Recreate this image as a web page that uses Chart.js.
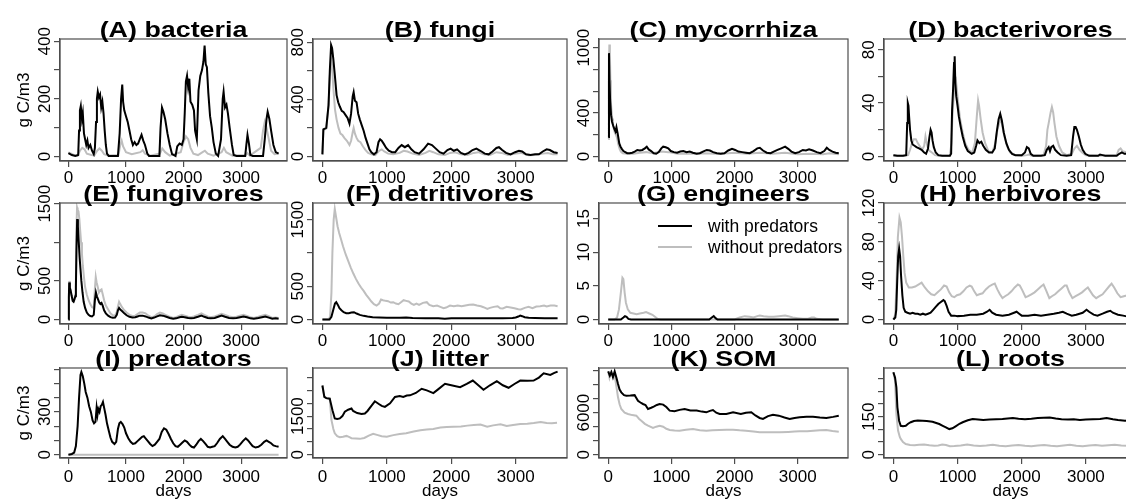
<!DOCTYPE html>
<html><head><meta charset="utf-8">
<script src="https://cdn.jsdelivr.net/npm/chart.js@4.4.1/dist/chart.umd.min.js"></script>
<style>
html,body{margin:0;padding:0;background:#fff;overflow:hidden;width:1126px;height:499px;position:relative}
canvas{position:absolute;display:block}
</style></head><body>
<script>
// ---------- data (day, g C/m3) ----------
const panelTitles = ['(A) bacteria','(B) fungi','(C) mycorrhiza','(D) bacterivores','(E) fungivores','(F) detritivores','(G) engineers','(H) herbivores','(I) predators','(J) litter','(K) SOM','(L) roots'];
const seriesLabels = ['with predators','without predators'];
const xTickValues = [0,1000,2000,3000];
const yTops = [408,823,1080,88,1509,1749,17.3,120,608,3372,12380,342];
const ySteps = [100,200,200,20,500,500,5,20,100,500,2000,50];
const yTickLabels = [[0,200,400],[0,400,800],[0,400,1000],[0,40,80],[0,500,1500],[0,500,1500],[0,5,10,15],[0,40,80,120],[0,300],[0,1500],[0,6000],[0,150]];
const yAxisTitle = 'g C/m3';
const xAxisTitle = 'days';

const bacteriaWith = [[0,12],[60,5],[120,2],[170,5],[185,90],[200,160],[215,175],[235,130],[250,150],[270,80],[290,60],[310,40],[330,55],[350,30],[380,40],[410,20],[440,8],[460,30],[480,120],[495,200],[510,225],[530,205],[550,215],[570,170],[590,190],[610,150],[630,90],[650,40],[670,10],[700,2],[860,2],[890,80],[915,200],[935,250],[950,190],[970,160],[1000,140],[1030,120],[1060,90],[1090,60],[1120,40],[1150,50],[1180,40],[1210,45],[1240,60],[1270,75],[1300,55],[1330,40],[1370,10],[1400,2],[1580,2],[1600,100],[1625,170],[1650,155],[1680,130],[1720,80],[1760,40],[1800,8],[1860,2],[1890,35],[1930,45],[1970,40],[2000,60],[2020,150],[2040,260],[2060,280],[2080,240],[2100,270],[2120,190],[2150,180],[2180,160],[2200,90],[2230,60],[2260,230],[2290,280],[2320,300],[2345,330],[2365,385],[2385,320],[2405,310],[2430,220],[2460,140],[2490,100],[2520,50],[2560,10],[2600,2],[2650,60],[2680,200],[2695,225],[2720,170],[2745,180],[2770,150],[2800,100],[2840,40],[2870,5],[2920,2],[3070,2],[3090,40],[3110,75],[3135,45],[3160,5],[3200,2],[3380,2],[3410,60],[3440,130],[3460,155],[3490,130],[3520,90],[3560,40],[3600,15],[3650,10]];
const bacteriaWithout = [[0,14],[50,10],[100,5],[160,3],[200,20],[240,30],[280,25],[320,10],[400,5],[450,4],[500,20],[540,28],[580,20],[620,8],[700,3],[870,5],[900,40],[925,55],[950,35],[1000,15],[1100,8],[1250,15],[1290,22],[1330,10],[1420,3],[1590,10],[1630,28],[1680,15],[1760,3],[1950,15],[2000,50],[2040,70],[2080,60],[2120,30],[2170,10],[2250,5],[2330,15],[2370,20],[2420,10],[2520,3],[2660,15],[2700,30],[2740,15],[2850,3],[3080,5],[3110,12],[3150,3],[3340,30],[3380,90],[3410,120],[3440,100],[3480,60],[3520,20],[3580,8],[3650,10]];
const fungiWith = [[0,15],[15,190],[60,200],[95,360],[115,600],[135,780],[150,760],[170,680],[195,560],[220,430],[245,380],[270,350],[300,320],[330,310],[360,290],[390,270],[420,230],[445,300],[470,420],[485,450],[505,390],[530,380],[555,300],[580,260],[610,220],[640,180],[670,130],[700,90],[730,50],[760,30],[800,15],[840,30],[870,100],[895,120],[920,110],[950,90],[990,60],[1030,40],[1080,30],[1130,30],[1180,60],[1230,80],[1280,65],[1330,80],[1380,50],[1430,30],[1500,20],[1570,50],[1640,90],[1700,80],[1760,55],[1820,30],[1880,20],[1940,45],[1990,55],[2040,40],[2090,50],[2150,25],[2210,15],[2270,25],[2330,45],[2390,55],[2450,40],[2520,20],[2580,15],[2640,35],[2700,60],[2740,65],[2790,45],[2850,25],[2920,15],[2990,30],[3050,40],[3100,35],[3160,15],[3230,10],[3300,15],[3360,15],[3420,35],[3480,50],[3530,45],[3590,30],[3650,25]];
const fungiWithout = [[0,15],[15,185],[60,195],[95,350],[115,560],[135,680],[150,640],[170,480],[195,330],[220,260],[250,200],[280,160],[310,150],[340,130],[380,110],[420,80],[445,110],[470,170],[485,200],[505,160],[530,130],[555,110],[590,100],[630,70],[670,45],[710,25],[760,15],[820,10],[880,40],[920,50],[960,35],[1020,20],[1100,15],[1200,25],[1260,40],[1320,35],[1400,20],[1500,10],[1600,25],[1660,40],[1720,30],[1800,15],[1900,10],[1980,25],[2060,30],[2150,15],[2250,10],[2350,25],[2420,30],[2500,15],[2600,10],[2700,30],[2780,25],[2880,10],[3000,20],[3080,25],[3200,8],[3300,10],[3420,20],[3500,25],[3580,15],[3650,15]];
const mycorrhizaWith = [[0,180],[12,950],[20,700],[30,520],[45,380],[60,320],[80,280],[100,250],[115,230],[130,270],[150,210],[175,120],[195,90],[215,70],[240,50],[270,40],[300,30],[340,30],[380,35],[420,45],[460,60],[500,55],[540,60],[580,75],[610,90],[640,65],[680,50],[720,30],[760,25],[800,40],[840,75],[870,90],[910,85],[950,75],[990,50],[1040,40],[1090,35],[1140,45],[1190,50],[1240,40],[1290,45],[1340,35],[1400,25],[1450,30],[1500,45],[1560,60],[1610,55],[1660,40],[1720,30],[1780,25],[1840,30],[1900,55],[1960,70],[2010,60],[2060,45],[2120,40],[2180,35],[2240,30],[2300,50],[2360,75],[2400,80],[2450,55],[2510,35],[2570,30],[2620,45],[2680,60],[2740,75],[2800,90],[2850,70],[2900,45],[2960,30],[3020,40],[3080,60],[3130,55],[3180,65],[3240,55],[3300,40],[3360,30],[3420,50],[3460,80],[3500,60],[3550,45],[3600,35],[3650,30]];
const mycorrhizaWithout = [[0,160],[10,700],[18,1030],[26,950],[34,700],[42,500],[52,420],[62,350],[75,300],[90,250],[105,220],[120,200],[140,170],[160,110],[180,70],[200,45],[230,30],[300,25],[400,25],[500,35],[600,40],[700,30],[850,45],[950,40],[1100,25],[1300,25],[1500,30],[1700,25],[1900,30],[2000,35],[2200,25],[2400,35],[2600,25],[2800,35],[3000,20],[3200,25],[3400,20],[3500,30],[3650,20]];
const bacterivoresWith = [[0,1],[60,0.5],[150,0.5],[200,1],[215,25],[225,40],[235,38],[245,30],[260,20],[280,12],[300,9],[330,8],[360,7],[400,6],[440,5],[480,3],[510,2],[540,6],[560,14],[580,20],[595,18],[610,12],[630,7],[660,3],[700,1],[760,0.5],[880,0.5],[900,2],[915,35],[930,50],[945,70],[955,75],[965,55],[980,45],[1000,38],[1020,30],[1050,22],[1080,15],[1120,8],[1160,4],[1220,2],[1260,3],[1290,8],[1310,12],[1340,10],[1370,11],[1400,8],[1440,5],[1490,3],[1540,3],[1580,6],[1610,18],[1640,28],[1665,32],[1690,27],[1720,18],[1760,10],[1800,5],[1850,2],[1900,1],[2000,1],[2050,3],[2080,7],[2110,6],[2140,2],[2180,0.5],[2300,0.5],[2360,1],[2390,5],[2420,7],[2440,4],[2460,7],[2490,8],[2520,5],[2560,3],[2610,1],[2700,0.5],[2770,1],[2800,15],[2820,22],[2840,22],[2860,20],[2890,15],[2920,9],[2950,5],[2990,2],[3050,0.5],[3190,0.5],[3220,1.5],[3260,1],[3300,0.5],[3480,0.5],[3520,2],[3560,3],[3600,2],[3650,2]];
const bacterivoresWithout = [[0,1],[60,0.5],[150,0.5],[230,1],[260,5],[290,10],[320,13],[350,13],[380,10],[420,7],[450,5],[480,8],[500,15],[520,10],[545,5],[570,4],[600,3],[650,1],[700,0.5],[880,0.5],[905,10],[920,30],[940,45],[960,55],[975,57],[990,50],[1010,40],[1040,28],[1080,18],[1120,10],[1170,5],[1230,3],[1270,10],[1300,30],[1320,42],[1335,38],[1360,28],[1390,18],[1430,10],[1480,4],[1540,3],[1590,10],[1620,20],[1650,25],[1680,28],[1700,22],[1730,15],[1770,8],[1820,3],[1900,1],[2000,0.5],[2080,1],[2110,1.5],[2150,0.5],[2340,1],[2380,8],[2400,20],[2420,25],[2450,33],[2470,37],[2490,33],[2510,25],[2540,15],[2580,8],[2630,3],[2700,1],[2780,2],[2820,6],[2860,8],[2900,5],[2940,3],[3000,1],[3200,0.5],[3480,1],[3510,5],[3540,6],[3570,4],[3650,3]];
const fungivoresWith = [[0,0],[8,290],[14,480],[25,410],[40,370],[55,310],[75,240],[90,230],[105,260],[120,300],[130,420],[140,900],[152,1300],[165,1200],[180,1000],[195,800],[210,650],[225,500],[245,350],[265,230],[290,150],[320,90],[350,60],[380,45],[410,40],[440,60],[460,250],[478,350],[495,300],[515,260],[535,220],[555,200],[575,215],[595,180],[620,120],[650,80],[690,50],[730,30],[770,22],[810,25],[840,60],[860,120],[880,150],[900,130],[930,110],[970,80],[1010,55],[1060,35],[1110,25],[1160,30],[1200,40],[1240,50],[1290,50],[1340,40],[1390,25],[1440,15],[1490,25],[1540,40],[1590,55],[1640,50],[1700,35],[1760,20],[1820,10],[1870,15],[1930,30],[1970,35],[2020,30],[2080,20],[2130,15],[2180,20],[2250,35],[2310,50],[2360,35],[2420,20],[2470,15],[2540,20],[2600,35],[2660,50],[2720,35],[2790,20],[2860,15],[2920,20],[2980,30],[3040,40],[3100,30],[3160,15],[3220,10],[3300,20],[3360,30],[3420,40],[3480,25],[3540,10],[3600,15],[3650,10]];
const fungivoresWithout = [[0,0],[8,300],[14,500],[25,420],[40,380],[55,320],[75,250],[90,240],[105,270],[120,320],[130,500],[140,1200],[150,1450],[160,1420],[175,1400],[190,1300],[205,1150],[220,1000],[235,850],[250,700],[270,550],[290,420],[320,320],[350,250],[380,200],[410,160],[440,150],[460,400],[475,550],[490,480],[510,420],[530,350],[555,380],[575,390],[595,330],[620,250],[650,180],[690,130],[730,80],[770,55],[810,50],[840,100],[860,170],[880,230],[900,200],[930,160],[970,120],[1010,90],[1060,60],[1110,45],[1160,50],[1200,70],[1240,90],[1290,90],[1340,80],[1390,50],[1440,30],[1490,40],[1540,70],[1590,90],[1640,80],[1700,55],[1760,35],[1820,20],[1870,30],[1930,50],[1970,60],[2020,50],[2080,35],[2130,30],[2180,40],[2250,60],[2310,80],[2360,60],[2420,40],[2470,30],[2540,40],[2600,55],[2660,75],[2720,60],[2790,40],[2860,30],[2920,35],[2980,50],[3040,60],[3100,45],[3160,30],[3220,20],[3300,35],[3360,50],[3420,60],[3480,45],[3540,20],[3600,25],[3650,20]];
const detritivoresWith = [[0,0],[110,0],[140,40],[170,150],[195,240],[215,260],[240,220],[265,170],[295,140],[330,110],[370,95],[410,95],[450,105],[490,110],[530,90],[580,70],[640,55],[700,45],[780,35],[880,30],[1000,25],[1200,25],[1300,30],[1400,22],[1600,20],[1800,18],[1900,12],[2000,20],[2200,20],[2400,18],[2600,18],[2800,20],[2950,22],[3000,30],[3040,45],[3070,60],[3100,50],[3140,35],[3200,25],[3300,22],[3450,20],[3650,20]];
const detritivoresWithout = [[0,0],[100,0],[120,50],[140,400],[155,1000],[175,1500],[192,1660],[210,1550],[235,1400],[260,1300],[290,1200],[320,1100],[360,980],[400,880],[440,780],[480,690],[520,610],[560,540],[600,480],[640,430],[680,370],[720,320],[760,270],[800,230],[840,210],[880,240],[910,300],[940,290],[980,280],[1020,275],[1060,255],[1100,260],[1140,240],[1180,230],[1220,260],[1260,290],[1300,280],[1340,270],[1380,240],[1420,220],[1460,240],[1500,220],[1560,250],[1620,260],[1660,220],[1720,200],[1780,210],[1830,190],[1880,170],[1920,180],[1980,210],[2040,200],[2100,210],[2160,200],[2220,210],[2280,220],[2340,225],[2400,210],[2460,200],[2500,185],[2560,160],[2600,175],[2660,190],[2720,200],[2760,170],[2800,165],[2860,190],[2920,180],[2980,170],[3040,155],[3080,150],[3140,175],[3200,190],[3260,170],[3320,195],[3380,200],[3440,210],[3480,195],[3540,210],[3600,210],[3650,200]];
const engineersWith = [[0,0],[200,0],[240,0.3],[265,0.5],[290,0.4],[320,0.1],[360,0],[1600,0],[1640,0.3],[1670,0.5],[1700,0.2],[1730,0],[3650,0]];
const engineersWithout = [[0,0],[100,0],[140,0.3],[170,1.5],[200,4],[225,6.2],[240,6],[260,4],[280,2.5],[310,1.5],[350,1],[400,0.9],[450,0.8],[500,0.9],[560,1],[600,1.1],[650,0.9],[700,0.7],[740,0.4],[780,0.1],[830,0],[2000,0],[2080,0.3],[2160,0.5],[2240,0.4],[2300,0.3],[2360,0.5],[2400,0.6],[2460,0.5],[2540,0.4],[2620,0.4],[2700,0.5],[2800,0.6],[2850,0.5],[2920,0.3],[3000,0.2],[3080,0.1],[3150,0.1],[3220,0.3],[3260,0.3],[3300,0.1],[3400,0],[3650,0]];
const herbivoresWith = [[0,0],[30,2],[45,10],[60,40],[75,65],[90,73],[105,65],[120,45],[140,25],[160,12],[185,8],[220,7],[260,6],[300,7],[340,6],[380,6],[420,5],[460,6],[500,5],[540,6],[580,7],[620,10],[660,13],[700,16],[740,18],[780,20],[800,19],[830,14],[860,8],[900,4],[950,4],[1000,3.5],[1100,4],[1200,5],[1300,5],[1400,6],[1460,8],[1500,10],[1540,7],[1600,5],[1700,4],[1800,5],[1880,7],[1920,8],[1960,6],[2000,4],[2100,4],[2200,5],[2300,4],[2400,5],[2500,6],[2580,7],[2640,8],[2700,6],[2780,4],[2850,5],[2950,7],[3010,10],[3050,8],[3120,5],[3180,4],[3260,6],[3330,8],[3380,9],[3420,7],[3500,5],[3580,4],[3650,3]];
const herbivoresWithout = [[0,0],[30,5],[50,40],[70,85],[95,105],[115,100],[135,85],[155,65],[175,48],[200,38],[240,33],[290,33],[340,34],[390,36],[440,38],[490,33],[540,29],[590,26],[640,25],[690,28],[740,31],[790,35],[830,34],[870,28],[910,24],[950,23],[990,25],[1040,26],[1090,29],[1140,33],[1190,35],[1220,34],[1260,29],[1300,25],[1340,26],[1390,27],[1440,31],[1490,34],[1540,36],[1580,37],[1620,31],[1660,26],[1700,22],[1740,24],[1790,26],[1840,29],[1890,33],[1940,36],[1970,35],[2010,30],[2060,23],[2100,24],[2150,26],[2200,28],[2250,31],[2300,34],[2340,36],[2380,30],[2430,22],[2470,24],[2520,26],[2570,29],[2620,32],[2670,35],[2700,35],[2740,28],[2790,22],[2840,24],[2890,26],[2940,28],[2990,31],[3030,33],[3060,30],[3110,25],[3160,22],[3210,24],[3260,26],[3310,30],[3360,34],[3400,37],[3440,33],[3490,27],[3540,23],[3590,24],[3650,25]];
const predatorsWith = [[0,0],[60,5],[100,15],[130,60],[160,200],[185,400],[210,560],[225,580],[250,550],[275,500],[300,440],[330,400],[360,340],[390,300],[420,240],[445,220],[470,230],[490,330],[505,280],[520,320],[540,300],[560,340],[580,350],[600,370],[620,330],[645,280],[670,220],[700,170],[730,120],[760,90],[800,75],[830,90],[860,180],[885,220],[910,230],[940,215],[970,190],[1000,150],[1040,115],[1080,90],[1120,75],[1160,80],[1200,95],[1240,110],[1280,125],[1310,130],[1340,115],[1380,95],[1420,75],[1460,60],[1500,70],[1540,90],[1580,110],[1620,160],[1660,185],[1700,175],[1740,145],[1780,110],[1820,80],[1860,60],[1900,55],[1940,70],[1980,85],[2020,100],[2060,90],[2100,70],[2140,55],[2180,50],[2220,70],[2260,95],[2300,110],[2340,95],[2380,75],[2420,55],[2460,50],[2500,55],[2540,60],[2580,80],[2630,110],[2680,130],[2720,110],[2760,90],[2800,70],[2850,55],[2900,50],[2940,55],[2980,70],[3030,95],[3080,115],[3120,100],[3160,80],[3200,60],[3250,50],[3300,55],[3350,70],[3400,90],[3440,100],[3480,90],[3520,80],[3560,65],[3600,60],[3650,55]];
const predatorsWithout = [[0,0],[3650,0]];
const litterWith = [[0,2690],[30,2250],[60,2200],[114,2180],[156,1730],[192,1410],[230,1390],[270,1410],[310,1500],[348,1670],[400,1750],[451,1795],[477,1700],[540,1620],[607,1580],[659,1600],[700,1700],[760,1900],[814,2077],[870,1980],[920,1900],[970,1859],[1050,2000],[1126,2244],[1200,2280],[1255,2244],[1310,2300],[1359,2308],[1450,2400],[1540,2564],[1620,2500],[1722,2397],[1800,2550],[1903,2756],[2000,2700],[2137,2628],[2240,2750],[2334,2885],[2420,2700],[2500,2526],[2600,2700],[2707,2859],[2800,2700],[2889,2603],[2980,2750],[3071,2885],[3180,2880],[3278,2885],[3360,3000],[3434,3167],[3537,3103],[3600,3180],[3650,3231]];
const litterWithout = [[0,2690],[30,2250],[60,2200],[114,2180],[140,1350],[170,1000],[192,830],[230,720],[270,680],[320,700],[373,730],[420,680],[451,640],[520,630],[581,615],[650,650],[720,740],[788,810],[860,760],[920,720],[1000,700],[1100,760],[1200,800],[1300,830],[1416,900],[1520,950],[1620,980],[1720,1000],[1831,1060],[1930,1080],[2033,1090],[2150,1100],[2250,1130],[2350,1150],[2453,1170],[2557,1090],[2650,1140],[2764,1180],[2860,1115],[2960,1150],[3071,1190],[3180,1200],[3280,1230],[3387,1270],[3480,1230],[3560,1220],[3641,1240]];
const somWith = [[0,11900],[25,11300],[50,11800],[75,11050],[102,11900],[130,11000],[155,10100],[180,9300],[207,8900],[250,8500],[286,8430],[350,8450],[418,8500],[445,8100],[471,7700],[510,7450],[550,7240],[590,7100],[630,6520],[680,6700],[720,6860],[770,7100],[814,7240],[870,7150],[920,6800],[973,6290],[1050,6190],[1130,6400],[1210,6520],[1300,6300],[1400,6300],[1480,6150],[1553,6050],[1610,6250],[1658,6380],[1710,6000],[1764,5810],[1870,5800],[1976,6050],[2100,5810],[2180,6000],[2265,6050],[2330,5600],[2397,5240],[2450,5100],[2530,5500],[2608,5710],[2700,5570],[2790,5300],[2872,5100],[2950,5250],[3030,5330],[3140,5400],[3242,5430],[3350,5300],[3453,5240],[3560,5400],[3650,5570]];
const somWithout = [[0,11900],[20,11000],[45,11800],[75,11200],[100,11400],[125,10000],[155,8190],[180,7200],[207,6520],[260,6000],[313,5810],[380,5650],[445,5570],[490,5100],[524,4860],[580,4400],[630,4140],[709,3810],[760,4000],[814,4140],[870,4000],[920,3700],[973,3520],[1050,3450],[1130,3430],[1230,3550],[1342,3670],[1450,3500],[1553,3430],[1650,3480],[1760,3520],[1870,3550],[1976,3570],[2080,3480],[2180,3430],[2300,3300],[2397,3190],[2500,3200],[2608,3190],[2720,3190],[2850,3250],[2950,3300],[3030,3330],[3150,3350],[3250,3420],[3350,3480],[3453,3520],[3550,3380],[3650,3290]];
const rootsWith = [[0,325],[26,305],[47,266],[63,187],[89,134],[115,114],[150,112],[193,114],[230,122],[271,128],[320,133],[380,135],[454,134],[520,133],[610,130],[715,121],[770,114],[819,108],[871,101],[920,104],[970,112],[1030,122],[1080,128],[1160,136],[1236,141],[1320,139],[1400,137],[1500,139],[1600,140],[1700,141],[1780,143],[1862,145],[1950,142],[2050,140],[2150,142],[2250,145],[2340,146],[2436,147],[2530,143],[2620,140],[2720,139],[2810,140],[2906,137],[3000,139],[3110,140],[3220,141],[3323,145],[3420,140],[3500,137],[3610,134],[3650,135]];
const rootsWithout = [[0,325],[26,292],[47,160],[73,95],[100,70],[115,62],[150,50],[193,42],[260,38],[330,37],[400,39],[480,40],[560,37],[640,35],[700,36],[760,40],[820,38],[880,33],[950,34],[1050,36],[1150,40],[1250,36],[1350,34],[1450,36],[1550,39],[1650,35],[1750,33],[1850,36],[1950,38],[2050,35],[2150,33],[2250,36],[2350,38],[2450,35],[2550,33],[2650,36],[2750,39],[2850,35],[2950,33],[3050,36],[3150,38],[3250,35],[3350,37],[3450,39],[3550,36],[3650,35]];

const panelSeries = [
  [bacteriaWith, bacteriaWithout], [fungiWith, fungiWithout], [mycorrhizaWith, mycorrhizaWithout], [bacterivoresWith, bacterivoresWithout],
  [fungivoresWith, fungivoresWithout], [detritivoresWith, detritivoresWithout], [engineersWith, engineersWithout], [herbivoresWith, herbivoresWithout],
  [predatorsWith, predatorsWithout], [litterWith, litterWithout], [somWith, somWithout], [rootsWith, rootsWithout]
];

// ---------- layout ----------
const colLeft = [60, 313, 599, 884];
const colRight = [287, 567, 848, 1137];
const rowTop = [39, 203, 368];
const rowBottom = [161, 324, 458];
const LEFT_SPACE = 62, TOP_SPACE = 40, RIGHT_SPACE = 8;
const FONT = '"Liberation Sans", Arial, Helvetica, sans-serif';
const LINE_COLORS = ['#000000', '#bebebe'];
const FRAME = '#4d4d4d';

Chart.defaults.font.family = FONT;

const decor = {
  id: 'decor',
  afterDraw(chart, args, o) {
    const ctx = chart.ctx, a = chart.chartArea;
    ctx.save();
    // frame
    ctx.strokeStyle = FRAME; ctx.lineWidth = 1.2;
    ctx.strokeRect(a.left, a.top, a.right - a.left, a.bottom - a.top);
    // y tick labels (rotated, as in R)
    const ys = chart.scales.y;
    ctx.fillStyle = '#000';
    ctx.font = '17px ' + FONT;
    ctx.textAlign = 'center'; ctx.textBaseline = 'alphabetic';
    for (const v of o.yLabels) {
      const py = ys.getPixelForValue(v);
      ctx.save(); ctx.translate(a.left - 10, py); ctx.rotate(-Math.PI / 2);
      ctx.fillText(String(v), 0, 0); ctx.restore();
    }
    // y axis title
    if (o.yTitle) {
      ctx.save(); ctx.translate(a.left - 31, (a.top + a.bottom) / 2); ctx.rotate(-Math.PI / 2);
      ctx.font = '17px ' + FONT; ctx.fillText(o.yTitle, 0, 0); ctx.restore();
    }
    // x axis title
    if (o.xTitle) {
      ctx.font = '17px ' + FONT; ctx.textAlign = 'center'; ctx.textBaseline = 'alphabetic';
      ctx.fillText(o.xTitle, (a.left + a.right) / 2, a.bottom + 38);
    }
    // panel title
    ctx.save();
    ctx.font = 'bold 22px ' + FONT; ctx.textAlign = 'center'; ctx.textBaseline = 'alphabetic';
    ctx.translate((a.left + a.right) / 2, a.top - 2); ctx.scale(1.22, 1);
    ctx.fillText(o.title, 0, 0);
    ctx.restore();
    // legend
    if (o.legend) {
      const ds = chart.data.datasets;
      ctx.font = '17.5px ' + FONT; ctx.textAlign = 'left'; ctx.textBaseline = 'middle';
      ds.forEach((d, i) => {
        const y = a.top + 23 + i * 21;
        ctx.strokeStyle = d.borderColor; ctx.lineWidth = 2;
        ctx.beginPath(); ctx.moveTo(a.left + 59, y); ctx.lineTo(a.left + 93, y); ctx.stroke();
        ctx.fillStyle = '#000'; ctx.fillText(d.label, a.left + 109, y + 1);
      });
    }
    ctx.restore();
  }
};

panelSeries.forEach((series, i) => {
  const col = i % 4, row = Math.floor(i / 4);
  const boxW = colRight[col] - colLeft[col];
  const boxH = rowBottom[row] - rowTop[row];
  const bottomSpace = row === 2 ? 42 : 30;
  const cw = LEFT_SPACE + boxW + RIGHT_SPACE, ch = TOP_SPACE + boxH + bottomSpace;
  const cv = document.createElement('canvas');
  cv.width = cw; cv.height = ch;
  cv.style.width = cw + 'px'; cv.style.height = ch + 'px';
  cv.style.left = (colLeft[col] - LEFT_SPACE) + 'px';
  cv.style.top = (rowTop[row] - TOP_SPACE) + 'px';
  document.body.appendChild(cv);

  const yTop = yTops[i], yMin = -yTop * 0.04 / 1.04;
  const yTickVals = [];
  for (let v = 0; v <= yTop + 1e-9; v += ySteps[i]) yTickVals.push(+v.toFixed(6));

  // Chart.js paints dataset 0 last, so "with predators" (black) is on top
  const datasets = series.map((s, k) => ({
    label: seriesLabels[k],
    data: s.map(p => ({ x: p[0], y: p[1] })),
    borderColor: LINE_COLORS[k],
    backgroundColor: LINE_COLORS[k],
    borderWidth: 2,
    pointRadius: 0,
    tension: 0,
    fill: false
  }));

  new Chart(cv, {
    type: 'line',
    data: { datasets },
    options: {
      responsive: false, animation: false, devicePixelRatio: 1,
      events: [],
      layout: { padding: { top: TOP_SPACE, right: RIGHT_SPACE, left: 0, bottom: 0 } },
      plugins: {
        legend: { display: false }, tooltip: { enabled: false }, title: { display: false },
        decor: {
          title: panelTitles[i], yLabels: yTickLabels[i],
          yTitle: col === 0 ? yAxisTitle : null,
          xTitle: row === 2 ? xAxisTitle : null,
          legend: i === 6
        }
      },
      scales: {
        x: {
          type: 'linear', min: -146, max: 3796,
          afterBuildTicks: s => { s.ticks = xTickValues.map(v => ({ value: v })); },
          afterFit: s => { s.height = bottomSpace; },
          ticks: { autoSkip: false, maxRotation: 0, minRotation: 0, padding: row === 2 ? 3 : 1, color: '#000', font: { size: 17, family: FONT }, callback: v => String(v) },
          grid: { drawOnChartArea: false, drawTicks: true, tickLength: 6, color: FRAME, lineWidth: 1.2 },
          border: { display: true, color: FRAME, width: 1.2 }
        },
        y: {
          type: 'linear', min: yMin, max: yTop,
          afterBuildTicks: s => { s.ticks = yTickVals.map(v => ({ value: v })); },
          afterFit: s => { s.width = LEFT_SPACE; },
          ticks: { display: false },
          grid: { drawOnChartArea: false, drawTicks: true, tickLength: 6, color: FRAME, lineWidth: 1.2 },
          border: { display: true, color: FRAME, width: 1.2 }
        }
      }
    },
    plugins: [decor]
  });
});
</script>
</body></html>
